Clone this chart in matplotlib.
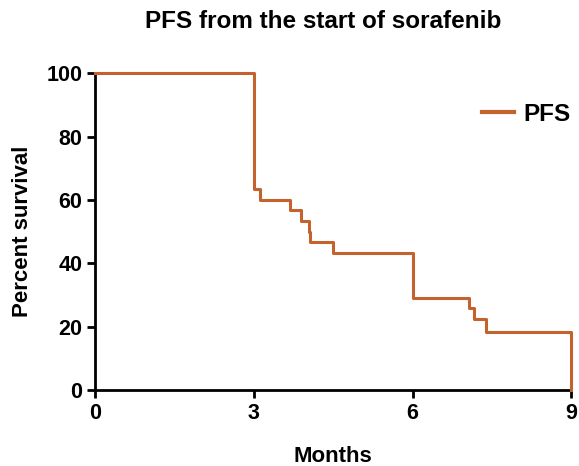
import matplotlib
matplotlib.use('Agg')
import matplotlib.pyplot as plt

plt.rcParams['font.family'] = ['Liberation Sans', 'DejaVu Sans']

# Kaplan-Meier steps
months = [0, 3.0, 3.12, 3.68, 3.89, 4.04, 4.07, 4.5, 6.0, 7.07, 7.16, 7.38, 9.0]
pfs = [100, 63.3, 60.0, 56.7, 53.3, 50.0, 46.7, 43.3, 29.0, 25.8, 22.4, 18.2, 0]

x_ticks = [0, 3, 6, 9]
y_ticks = [0, 20, 40, 60, 80, 100]

color = '#C4622D'

fig = plt.figure(figsize=(5.79, 4.66), dpi=100)
ax = fig.add_axes([0.164, 0.163, 0.823, 0.68])

ax.step(months, pfs, where='post', color=color, lw=2.2, label='PFS',
        zorder=3, clip_on=False)

ax.set_xlim(0, 9)
ax.set_ylim(0, 100)
ax.set_xticks(x_ticks)
ax.set_yticks(y_ticks)
ax.set_xticklabels([str(v) for v in x_ticks], fontsize=15.5, fontweight='bold')
ax.set_yticklabels([str(v) for v in y_ticks], fontsize=15.5, fontweight='bold')

for s in ['top', 'right']:
    ax.spines[s].set_visible(False)
for s in ['left', 'bottom']:
    ax.spines[s].set_linewidth(2)
    ax.spines[s].set_color('black')
ax.tick_params(width=2, length=6, direction='out', pad=3)

ax.set_xlabel('Months', fontsize=16, fontweight='bold', labelpad=16)
ax.set_ylabel('Percent survival', fontsize=16, fontweight='bold', labelpad=10)
fig.text(323 / 579, 1 - 21 / 466, 'PFS from the start of sorafenib',
         fontsize=17.5, fontweight='bold', ha='center', va='center')

leg = ax.legend(loc='upper right', bbox_to_anchor=(1.045, 0.975), frameon=False,
                prop={'size': 17.5, 'weight': 'bold'},
                handlelength=1.3, handletextpad=0.4)
for line in leg.get_lines():
    line.set_linewidth(3)

fig.savefig('out.png', dpi=100)
